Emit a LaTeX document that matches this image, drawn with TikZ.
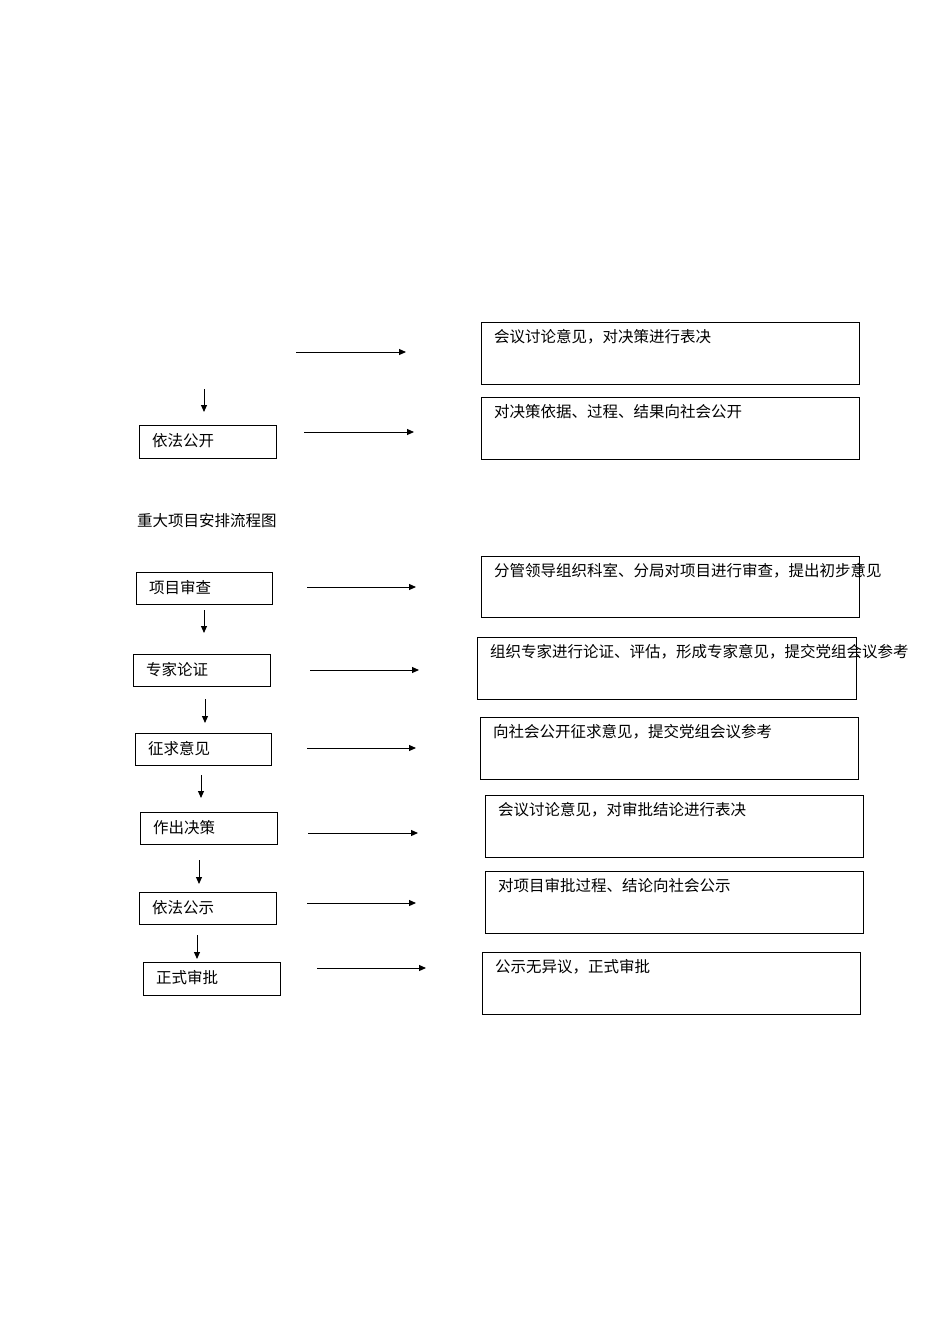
\documentclass[tikz,border=0pt]{standalone}
\usepackage{fontspec}
\setmainfont{Noto Sans CJK SC}
\newfontfamily\cjk{Noto Sans CJK SC}
\usetikzlibrary{arrows.meta}
\begin{document}
\begin{tikzpicture}[x=1pt,y=-1pt,
  box/.style={draw,line width=1pt,inner sep=0pt,anchor=north west},
  txt/.style={anchor=north west,inner sep=0pt,font=\fontsize{15.5}{17}\selectfont,align=left},
  arr/.style={line width=1pt,-{Triangle[length=7pt,width=6pt]}}]
\useasboundingbox (0,0) rectangle (950,1344);
\newcommand\lbox[6]{%
  \node[box,minimum width=#4-#2,minimum height=#5-#3] (#1) at (#2,#3) {};
  \node[txt] (#1t) at (#2+13,#3+8) {#6};}
\newcommand\rbox[6]{%
  \node[box,minimum width=#4-#2,minimum height=#5-#3] (#1) at (#2,#3) {};
  \node[txt,text width=#4-#2-20] (#1t) at (#2+13,#3+7) {#6};}
% top fragment
\rbox{r0}{481}{322}{859}{384}{会议讨论意见，对决策进行表决}
\lbox{l1}{139}{425}{276}{458}{依法公开}
\rbox{r1}{481}{397}{859}{459}{对决策依据、过程、结果向社会公开}
\coordinate (a0s) at (296,352); \coordinate (a0e) at (406,352);
\draw[arr] (a0s) -- (a0e);
\coordinate (a1s) at (304,432); \coordinate (a1e) at (414,432);
\draw[arr] (a1s) -- (a1e);
\coordinate (v0s) at (204,389); \coordinate (v0e) at (204,412);
\draw[arr] (v0s) -- (v0e);
\node[txt] (title) at (137,513) {重大项目安排流程图};
% flow
\lbox{b1}{136}{572}{272}{604}{项目审查}
\lbox{b2}{133}{654}{270}{686}{专家论证}
\lbox{b3}{135}{733}{271}{765}{征求意见}
\lbox{b4}{140}{812}{277}{844}{作出决策}
\lbox{b5}{139}{892}{276}{924}{依法公示}
\lbox{b6}{143}{962}{280}{995}{正式审批}
\rbox{c1}{481}{556}{859}{617}{分管领导组织科室、分局对项目进行审查，提出初步意见}
\rbox{c2}{477}{637}{856}{699}{组织专家进行论证、评估，形成专家意见，提交党组会议参考}
\rbox{c3}{480}{717}{858}{779}{向社会公开征求意见，提交党组会议参考}
\rbox{c4}{485}{795}{863}{857}{会议讨论意见，对审批结论进行表决}
\rbox{c5}{485}{871}{863}{933}{对项目审批过程、结论向社会公示}
\rbox{c6}{482}{952}{860}{1014}{公示无异议，正式审批}
\foreach \i/\xs/\xe/\y in {1/307/416/587,2/310/419/670,3/307/416/748,4/308/418/833,5/307/416/903,6/317/426/968}{
  \coordinate (hs\i) at (\xs,\y); \coordinate (he\i) at (\xe,\y);
  \draw[arr] (hs\i) -- (he\i);}
\foreach \i/\x/\ys/\ye in {1/204/610/633,2/205/699/723,3/201/775/798,4/199/860/884,5/197/935/959}{
  \coordinate (vs\i) at (\x,\ys); \coordinate (ve\i) at (\x,\ye);
  \draw[arr] (vs\i) -- (ve\i);}
\end{tikzpicture}
\end{document}
